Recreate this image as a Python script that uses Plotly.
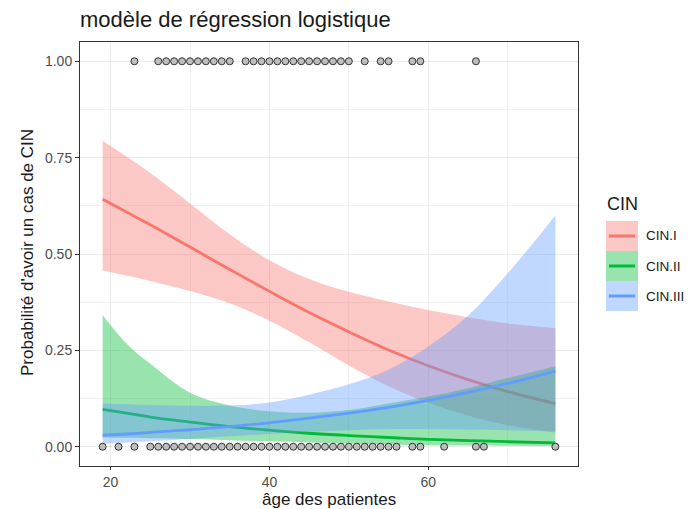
import plotly.graph_objects as go

# ---- data ----
ages = [19, 22, 25, 30, 35, 40, 45, 50, 55, 60, 65, 70, 76]

cin1_fit = [0.642, 0.609, 0.576, 0.518, 0.460, 0.403, 0.348, 0.298, 0.251, 0.210, 0.174, 0.143, 0.112]
cin1_hi = [0.793, 0.753, 0.710, 0.631, 0.551, 0.484, 0.435, 0.402, 0.377, 0.355, 0.336, 0.320, 0.308]
cin1_lo = [0.457, 0.444, 0.430, 0.404, 0.372, 0.327, 0.271, 0.211, 0.157, 0.114, 0.081, 0.056, 0.037]

cin2_fit = [0.097, 0.087, 0.077, 0.064, 0.052, 0.043, 0.035, 0.029, 0.024, 0.019, 0.016, 0.013, 0.010]
cin2_hi = [0.342, 0.268, 0.215, 0.140, 0.107, 0.092, 0.088, 0.095, 0.112, 0.130, 0.152, 0.178, 0.209]
cin2_lo = [0.024, 0.023, 0.022, 0.020, 0.017, 0.014, 0.011, 0.008, 0.006, 0.004, 0.003, 0.0025, 0.002]

cin3_fit = [0.030, 0.033, 0.037, 0.044, 0.052, 0.062, 0.074, 0.087, 0.102, 0.120, 0.141, 0.164, 0.196]
cin3_hi = [0.112, 0.110, 0.108, 0.106, 0.107, 0.115, 0.135, 0.162, 0.200, 0.260, 0.340, 0.450, 0.600]
cin3_lo = [0.008, 0.011, 0.014, 0.020, 0.027, 0.033, 0.039, 0.043, 0.046, 0.046, 0.045, 0.043, 0.040]

ages_cas = [23, 26, 27, 28, 29, 30, 31, 32, 33, 34, 35,
            37, 38, 39, 40, 41, 42, 43, 44, 45, 46, 47, 48, 49, 50,
            52, 54, 55, 58, 59, 66]
ages_non = [19, 21, 23] + list(range(25, 57)) + [58, 59, 62, 66, 67, 76]

series_names = ["CIN.I", "CIN.II", "CIN.III"]
x_ticks = [20, 40, 60]
y_ticks = [0.00, 0.25, 0.50, 0.75, 1.00]

# ---- styling ----
colors = ["#F8766D", "#00BA38", "#619CFF"]
fills = ["rgba(248,118,109,0.4)", "rgba(0,186,56,0.4)", "rgba(97,156,255,0.4)"]
FONT = "Liberation Sans, Arial, sans-serif"

OFF = 8  # default page body margin in the browser
W, H = 694 - OFF, 509 - OFF
# panel edges in page pixels
PL, PR, PT, PB = 80, 578, 42, 466
L, R, T, B = PL - OFF, PR - OFF, PT - OFF, PB - OFF


def px(xp):
    # page-pixel x -> paper fraction
    return (xp - PL) / (PR - PL)


def py(yp):
    # page-pixel y -> paper fraction
    return (PB - yp) / (PB - PT)


fig = go.Figure()

bands = [(cin1_lo, cin1_fit, cin1_hi), (cin2_lo, cin2_fit, cin2_hi), (cin3_lo, cin3_fit, cin3_hi)]
for i, (lo, fit, hi) in enumerate(bands):
    fig.add_trace(go.Scatter(x=ages, y=hi, mode="lines", line=dict(width=0, shape="spline"),
                             showlegend=False, hoverinfo="skip"))
    fig.add_trace(go.Scatter(x=ages, y=lo, mode="lines", line=dict(width=0, shape="spline"),
                             fill="tonexty", fillcolor=fills[i], showlegend=False, hoverinfo="skip"))
    fig.add_trace(go.Scatter(x=ages, y=fit, mode="lines", name=series_names[i],
                             line=dict(color=colors[i], width=2.8, shape="spline"),
                             showlegend=False))

pts_x = ages_cas + ages_non
pts_y = [1] * len(ages_cas) + [0] * len(ages_non)
fig.add_trace(go.Scatter(x=pts_x, y=pts_y, mode="markers", showlegend=False,
                         marker=dict(size=7, color="#BEBEBE", line=dict(color="#333333", width=1))))

# ---- manual ggplot-style legend ----
shapes = []
annotations = []
key_top = 221
key_h = 30
for i, name in enumerate(series_names):
    y0 = key_top + i * key_h
    y1 = y0 + key_h
    shapes.append(dict(type="rect", xref="paper", yref="paper",
                       x0=px(606), x1=px(638), y0=py(y1), y1=py(y0),
                       fillcolor=fills[i], line=dict(width=0), layer="above"))
    yc = (y0 + y1) / 2
    shapes.append(dict(type="line", xref="paper", yref="paper",
                       x0=px(609), x1=px(635), y0=py(yc), y1=py(yc),
                       line=dict(color=colors[i], width=3), layer="above"))
    annotations.append(dict(text=name, xref="paper", yref="paper", x=px(645), y=py(yc),
                            xanchor="left", yanchor="middle", showarrow=False, borderpad=0,
                            font=dict(family=FONT, size=13.5, color="#1A1A1A")))
annotations.append(dict(text="CIN", xref="paper", yref="paper", x=px(605), y=py(204),
                        xanchor="left", yanchor="middle", showarrow=False,
                        font=dict(family=FONT, size=18, color="#1A1A1A")))
# axis titles
annotations.append(dict(text="âge des patientes", xref="paper", yref="paper", x=0.5, y=py(499.5),
                        xanchor="center", yanchor="middle", showarrow=False, borderpad=0,
                        font=dict(family=FONT, size=17, color="#1A1A1A")))
annotations.append(dict(text="Probabilité d'avoir un cas de CIN", xref="paper", yref="paper",
                        x=px(27), y=py(253), xanchor="center", yanchor="middle", textangle=-90,
                        showarrow=False, font=dict(family=FONT, size=17, color="#1A1A1A")))

fig.update_layout(
    width=W, height=H,
    margin=dict(l=L, r=W - R, t=T, b=H - B, autoexpand=False),
    paper_bgcolor="white", plot_bgcolor="white",
    font=dict(family=FONT, color="#1A1A1A"),
    title=dict(text="modèle de régression logistique", x=(80 - OFF) / W, xref="container", xanchor="left",
               y=1 - (19 - OFF) / H, yref="container", yanchor="middle",
               font=dict(family=FONT, size=22, color="#1A1A1A")),
    shapes=shapes, annotations=annotations, showlegend=False,
)

fig.update_xaxes(range=[16.15, 78.85], tickvals=x_ticks, ticktext=[str(v) for v in x_ticks],
                 showgrid=True, gridcolor="#EBEBEB", gridwidth=1.1, zeroline=False,
                 showline=True, mirror=True, linecolor="#333333", linewidth=1,
                 ticks="outside", ticklen=3, tickcolor="#333333", tickwidth=1,
                 tickfont=dict(family=FONT, size=14, color="#4D4D4D"),
                 minor=dict(tickvals=[30, 50, 70], showgrid=True, gridcolor="#F2F2F2", gridwidth=0.6, ticks=""))
fig.update_yaxes(range=[-0.05, 1.05], tickvals=y_ticks, ticktext=["%.2f" % v for v in y_ticks],
                 showgrid=True, gridcolor="#EBEBEB", gridwidth=1.1, zeroline=False,
                 showline=True, mirror=True, linecolor="#333333", linewidth=1,
                 ticks="outside", ticklen=4, tickcolor="#333333", tickwidth=1,
                 tickfont=dict(family=FONT, size=14, color="#4D4D4D"),
                 minor=dict(tickvals=[0.125, 0.375, 0.625, 0.875], showgrid=True, gridcolor="#F2F2F2",
                            gridwidth=0.6, ticks=""))

fig.write_html("out.html")
